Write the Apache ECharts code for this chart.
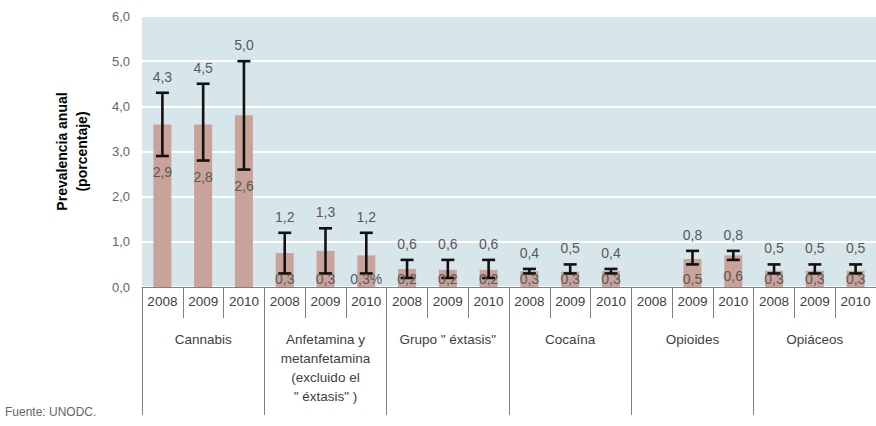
<!DOCTYPE html>
<html>
<head>
<meta charset="utf-8">
<script src="https://cdn.jsdelivr.net/npm/echarts@6/dist/echarts.min.js"></script>
<style>html,body{margin:0;padding:0;background:#fff}#c{width:876px;height:426px}</style>
</head>
<body>
<div id="c"></div>
<script>
const years = ['2008','2009','2010','2008','2009','2010','2008','2009','2010','2008','2009','2010','2008','2009','2010','2008','2009','2010'];
const groups = ['Cannabis','Anfetamina y\nmetanfetamina\n(excluido el\n" éxtasis" )','Grupo " éxtasis"','Cocaína','Opioides','Opiáceos'];
const means = [3.6,3.6,3.8,0.75,0.8,0.7,0.4,0.38,0.38,0.35,0.34,0.35,null,0.62,0.7,0.36,0.36,0.36];
const low = [2.9,2.8,2.6,0.3,0.3,0.3,0.2,0.2,0.2,0.3,0.3,0.3,null,0.5,0.6,0.3,0.3,0.3];
const high = [4.3,4.5,5.0,1.2,1.3,1.2,0.6,0.6,0.6,0.4,0.5,0.4,null,0.8,0.8,0.5,0.5,0.5];
const lowLabels = ['2,9','2,8','2,6','0,3','0,3','0,3%','0,2','0,2','0,2','0,3','0,3','0,3','','0,5','0,6','0,3','0,3','0,3'];
const highLabels = ['4,3','4,5','5,0','1,2','1,3','1,2','0,6','0,6','0,6','0,4','0,5','0,4','','0,8','0,8','0,5','0,5','0,5'];
const yTicks = [0,1,2,3,4,5,6];

const FONT = 'Arial, "Liberation Sans", sans-serif';
const errData = [];
for (let i = 0; i < years.length; i++) {
  if (low[i] != null) errData.push([i, low[i], high[i], lowLabels[i], highLabels[i]]);
}

const chart = echarts.init(document.getElementById('c'), null, {renderer: 'svg'});
chart.setOption({
  animation: false,
  textStyle: {fontFamily: FONT},
  grid: {left: 142, top: 16, width: 738, height: 271, show: true, backgroundColor: '#d6e6ea', borderWidth: 0},
  xAxis: [{
    type: 'category', data: years, position: 'bottom',
    axisLine: {lineStyle: {color: '#7f7f7f', width: 1}},
    axisTick: {show: true, interval: 0, length: 31, lineStyle: {color: '#7f7f7f'}},
    axisLabel: {interval: 0, margin: 7, fontSize: 13.5, color: '#404040', fontFamily: FONT}
  }, {
    type: 'category', data: groups, position: 'bottom',
    axisLine: {show: false},
    axisTick: {show: true, interval: 0, length: 128, lineStyle: {color: '#7f7f7f'}},
    axisLabel: {interval: 0, margin: 43, fontSize: 13.5, color: '#404040', lineHeight: 19, fontFamily: FONT}
  }],
  yAxis: {
    type: 'value', min: 0, max: 6, interval: 1,
    name: 'Prevalencia anual\n(porcentaje)', nameLocation: 'middle', nameRotate: 90, nameGap: 50,
    nameTextStyle: {fontWeight: 'bold', fontSize: 14, color: '#000', lineHeight: 20, fontFamily: FONT},
    axisLine: {show: false}, axisTick: {show: false},
    axisLabel: {margin: 12, fontSize: 13, color: '#666666', fontFamily: FONT,
      formatter: v => yTicks.includes(v) ? v.toFixed(1).replace('.', ',') : ''},
    splitLine: {lineStyle: {color: '#ffffff', width: 2}}
  },
  series: [{
    type: 'bar', data: means, barWidth: 18, xAxisIndex: 0,
    itemStyle: {color: '#c9a29a'}, silent: true
  }, {
    type: 'custom', xAxisIndex: 0, data: errData, z: 5,
    renderItem: function (params, api) {
      const i = api.value(0);
      const pl = api.coord([i, api.value(1)]);
      const ph = api.coord([i, api.value(2)]);
      const base = api.coord([i, 0])[1];
      const x = pl[0], cw = 6.5;
      const ls = {stroke: '#111', lineWidth: 2.6};
      const lowY = Math.min(pl[1] + 16, base - 8);
      return {type: 'group', children: [
        {type: 'line', shape: {x1: x, y1: pl[1], x2: x, y2: ph[1]}, style: ls},
        {type: 'line', shape: {x1: x - cw, y1: pl[1], x2: x + cw, y2: pl[1]}, style: ls},
        {type: 'line', shape: {x1: x - cw, y1: ph[1], x2: x + cw, y2: ph[1]}, style: ls},
        {type: 'text', style: {x: x, y: ph[1] - 16, text: api.value(4), fill: '#595959', font: '14px ' + FONT, textAlign: 'center', textVerticalAlign: 'middle'}},
        {type: 'text', style: {x: x, y: lowY, text: api.value(3), fill: '#595959', font: '14px ' + FONT, textAlign: 'center', textVerticalAlign: 'middle'}}
      ]};
    }
  }],
  graphic: [{type: 'text', left: 5, top: 406, style: {text: 'Fuente: UNODC.', fill: '#666666', font: '12px ' + FONT}}]
});
</script>
</body>
</html>
